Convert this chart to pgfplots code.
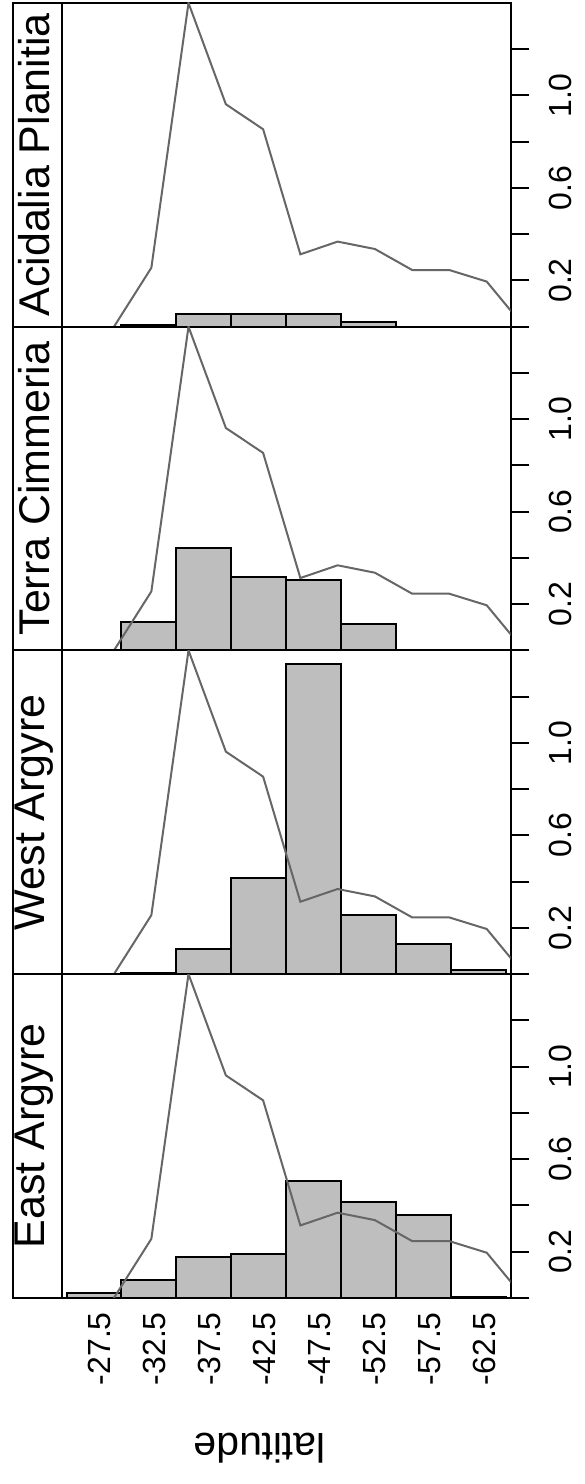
\documentclass[border=0pt]{standalone}
\usepackage{fontspec}
\setmainfont{Liberation Sans}
\usepackage{pgfplots}
\pgfplotsset{compat=1.18}
\definecolor{barfill}{RGB}{190,190,190}
\definecolor{curve}{RGB}{102,102,102}

\pgfplotsset{panel/.style={
  at={(30.85pt,#1)}, anchor=south west,
  scale only axis, width=224.5pt, height=161.85pt,
  xmin=-65.42, xmax=-24.56, x dir=reverse,
  ymin=0, ymax=1.40,
  axis line style={line width=1pt},
  ytick={0,0.2,0.4,0.6,0.8,1.0,1.2},
  yticklabels={,0.2,,0.6,,1.0,},
  ytick pos=right, yticklabel pos=right,
  tick align=outside, major tick length=9.3pt,
  every tick/.style={black, line width=1pt},
  yticklabel style={font=\fontsize{16}{19}\selectfont, rotate=90, anchor=north, inner sep=0pt},
  yticklabel shift=9.5pt,
  xtick=\empty,
}}
% bars and the common curve
\pgfplotsset{bars/.style={ybar, bar width=5, bar shift=0pt, fill=barfill, draw=black, line width=1pt},
  curveline/.style={curve, line width=1pt, mark=none}}

\newcommand{\allcurve}{\addplot[curveline] coordinates {
  (-29.32,0) (-32.72,0.255) (-36.10,1.40) (-39.50,0.962) (-42.89,0.854)
  (-46.28,0.313) (-49.67,0.368) (-53.06,0.336) (-56.46,0.245) (-59.84,0.245)
  (-63.24,0.195) (-66.63,0)};}

\newcommand{\strip}[2]{%
  \draw[line width=1pt] ([xshift=-24.35pt]#1.south west) rectangle (#1.north west);
  \node[rotate=90, font=\fontsize{21.5}{25}\selectfont] at ([xshift=-13.85pt]#1.west) {#2};}

\begin{document}
\begin{tikzpicture}
\useasboundingbox (0,0) rectangle (292pt,742pt);

\begin{axis}[panel=578.65pt, name=p1]
  \addplot[bars] coordinates {(-32.5,0.008) (-37.5,0.053) (-42.5,0.053) (-47.5,0.053) (-52.5,0.02)};
  \allcurve
\end{axis}
\strip{p1}{Acidalia Planitia}

\begin{axis}[panel=416.8pt, name=p2]
  \addplot[bars] coordinates {(-32.5,0.124) (-37.5,0.442) (-42.5,0.317) (-47.5,0.303) (-52.5,0.113)};
  \allcurve
\end{axis}
\strip{p2}{Terra Cimmeria}

\begin{axis}[panel=254.95pt, name=p3]
  \addplot[bars] coordinates {(-32.5,0.005) (-37.5,0.108) (-42.5,0.414) (-47.5,1.340) (-52.5,0.257) (-57.5,0.131) (-62.5,0.019)};
  \allcurve
\end{axis}
\strip{p3}{West Argyre}

\begin{axis}[panel=93.1pt, name=p4,
  xtick={-27.5,-32.5,-37.5,-42.5,-47.5,-52.5,-57.5,-62.5},
  xticklabels={-27.5,-32.5,-37.5,-42.5,-47.5,-52.5,-57.5,-62.5},
  xtick style={draw=none},
  xticklabel style={xshift=2.9pt, font=\fontsize{16}{19}\selectfont, rotate=90, anchor=east, inner sep=0pt},
  xticklabel shift=-2.3pt]
  \addplot[bars] coordinates {(-27.5,0.019) (-32.5,0.077) (-37.5,0.175) (-42.5,0.189) (-47.5,0.505) (-52.5,0.416) (-57.5,0.358) (-62.5,0.005)};
  \allcurve
\end{axis}
\strip{p4}{East Argyre}

\node[rotate=180, font=\fontsize{20.5}{24}\selectfont] at (129.85pt,17.85pt) {latitude};
\end{tikzpicture}
\end{document}
